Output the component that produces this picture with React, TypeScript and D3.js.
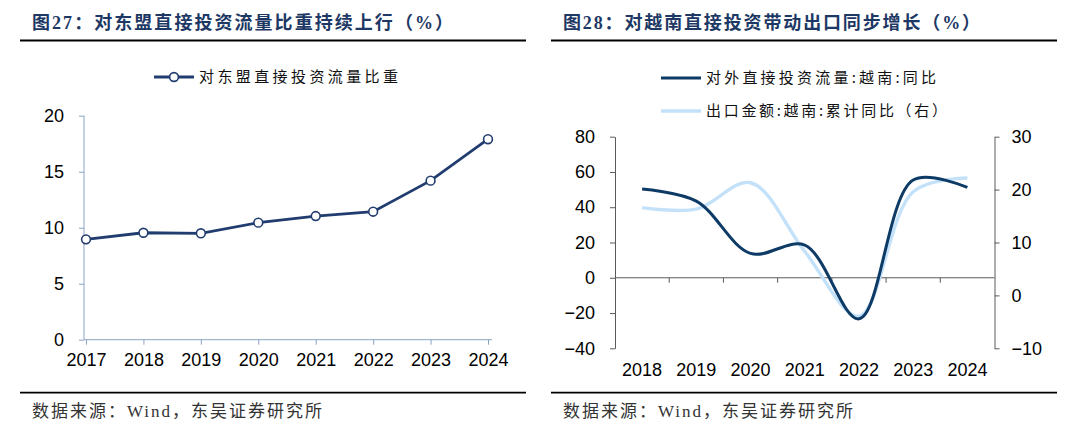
import * as d3 from 'd3';
import React, { useEffect, useRef } from 'react';

// 图27 数据
const aseanYears = ['2017', '2018', '2019', '2020', '2021', '2022', '2023', '2024'];
const aseanShare = [8.96, 9.55, 9.5, 10.45, 11.04, 11.43, 14.2, 17.9];

// 图28 数据
const vnYears = ['2018', '2019', '2020', '2021', '2022', '2023', '2024'];
const vnOdiYoy = [50.3, 43.5, 13.8, 18.5, -23.3, 55.4, 51.2];
const vnExportYoy = [16.6, 16.3, 21.3, 8.3, -3.9, 19.6, 22.2];

const leftTicks = [0, 5, 10, 15, 20];
const rightLeftTicks = [-40, -20, 0, 20, 40, 60, 80];
const rightRightTicks = [-10, 0, 10, 20, 30];

const NAVY = '#213c6f';
const DARK = '#0d3b66';
const LIGHT = '#c4e1fa';
const TITLE = '#1d3864';
const NUM_FONT = "'Liberation Sans', Arial, sans-serif";
const CJK_FONT = "'Noto Sans CJK SC', sans-serif";
const SERIF_FONT = "'Liberation Serif', 'Noto Sans CJK SC', serif";

const App: React.FC = () => {
  const ref = useRef<SVGSVGElement | null>(null);

  useEffect(() => {
    if (!ref.current) return;
    const svg = d3.select(ref.current);
    svg.selectAll('*').remove();

    // 标题、上下分隔线、来源
    const blocks = [
      { x0: 20, x1: 526, tx: 32, tw: 421, title: '图27：对东盟直接投资流量比重持续上行（%）' },
      { x0: 551, x1: 1057, tx: 563, tw: 417, title: '图28：对越南直接投资带动出口同步增长（%）' },
    ];
    blocks.forEach((b) => {
      svg
        .append('text')
        .attr('x', b.tx)
        .attr('y', 29)
        .attr('font-family', SERIF_FONT)
        .attr('font-weight', 'bold')
        .attr('font-size', 18)
        .attr('fill', TITLE)
        .attr('textLength', b.tw)
        .attr('lengthAdjust', 'spacing')
        .text(b.title);
      [40.5, 392.7].forEach((y) => {
        svg
          .append('line')
          .attr('x1', b.x0)
          .attr('x2', b.x1)
          .attr('y1', y)
          .attr('y2', y)
          .attr('stroke', '#000')
          .attr('stroke-width', 1.8);
      });
      svg
        .append('text')
        .attr('x', b.tx)
        .attr('y', 417)
        .attr('font-family', SERIF_FONT)
        .attr('font-size', 17)
        .attr('letter-spacing', 2)
        .attr('fill', '#333')
        .text('数据来源：Wind，东吴证券研究所');
    });

    // ---------- 左图 ----------
    const lx = d3.scalePoint<string>().domain(aseanYears).range([86, 488]);
    const ly = d3.scaleLinear().domain([0, 20]).range([339.7, 115.7]);
    const axisGrey = '#8ca4c2';

    const gl = svg.append('g');
    gl.append('g')
      .attr('transform', 'translate(84,0)')
      .call(d3.axisLeft(ly).tickValues(leftTicks).tickSize(5).tickSizeOuter(0).tickPadding(15))
      .call((g) => g.select('.domain').remove());
    gl.append('line')
      .attr('x1', 84)
      .attr('x2', 84)
      .attr('y1', ly(20))
      .attr('y2', ly(0))
      .attr('stroke', axisGrey);
    gl.append('g')
      .attr('transform', `translate(0,${ly(0)})`)
      .call(d3.axisBottom(lx).tickSize(5).tickPadding(9))
      .call((g) => g.select('.domain').remove());
    gl.append('line')
      .attr('x1', 84)
      .attr('x2', 492)
      .attr('y1', ly(0))
      .attr('y2', ly(0))
      .attr('stroke', axisGrey);
    gl.selectAll('.tick line').attr('stroke', axisGrey);
    gl.selectAll('.tick text')
      .attr('font-family', NUM_FONT)
      .attr('font-size', 18)
      .attr('fill', '#000');

    const leftLine = d3
      .line<number>()
      .x((_, i) => lx(aseanYears[i]) as number)
      .y((d) => ly(d));
    gl.append('path')
      .datum(aseanShare)
      .attr('fill', 'none')
      .attr('stroke', NAVY)
      .attr('stroke-width', 2.8)
      .attr('d', leftLine);
    gl.selectAll('circle.pt')
      .data(aseanShare)
      .enter()
      .append('circle')
      .attr('class', 'pt')
      .attr('cx', (_, i) => lx(aseanYears[i]) as number)
      .attr('cy', (d) => ly(d))
      .attr('r', 4.4)
      .attr('fill', '#fff')
      .attr('stroke', NAVY)
      .attr('stroke-width', 1.6);

    // 左图图例
    gl.append('line')
      .attr('x1', 154)
      .attr('x2', 194)
      .attr('y1', 77)
      .attr('y2', 77)
      .attr('stroke', NAVY)
      .attr('stroke-width', 2.8);
    gl.append('circle')
      .attr('cx', 174)
      .attr('cy', 77)
      .attr('r', 4.4)
      .attr('fill', '#fff')
      .attr('stroke', NAVY)
      .attr('stroke-width', 1.6);
    gl.append('text')
      .attr('x', 199)
      .attr('y', 77)
      .attr('dy', '0.36em')
      .attr('font-family', CJK_FONT)
      .attr('font-size', 15)
      .attr('fill', '#111')
      .attr('textLength', 199)
      .attr('lengthAdjust', 'spacing')
      .text('对东盟直接投资流量比重');

    // ---------- 右图 ----------
    const rx = d3.scaleBand<string>().domain(vnYears).range([615, 994.5]);
    const ryL = d3.scaleLinear().domain([-40, 80]).range([348.3, 136.7]);
    const ryR = d3.scaleLinear().domain([-10, 30]).range([348.3, 136.7]);
    const cx = (i: number) => (rx(vnYears[i]) as number) + rx.bandwidth() / 2;
    const axisDark = '#5a5a5a';

    const gr = svg.append('g');
    gr.append('g')
      .attr('transform', 'translate(615,0)')
      .call(d3.axisLeft(ryL).tickValues(rightLeftTicks).tickSize(5).tickSizeOuter(0).tickPadding(15));
    gr.append('g')
      .attr('transform', 'translate(994.5,0)')
      .call(d3.axisRight(ryR).tickValues(rightRightTicks).tickSize(5).tickSizeOuter(0).tickPadding(12));
    // 零轴与年份分隔刻度
    gr.append('line')
      .attr('x1', 615)
      .attr('x2', 994.5)
      .attr('y1', ryL(0))
      .attr('y2', ryL(0))
      .attr('stroke', axisDark);
    gr.selectAll('line.sep')
      .data(vnYears.slice(1))
      .enter()
      .append('line')
      .attr('class', 'sep')
      .attr('x1', (d) => rx(d) as number)
      .attr('x2', (d) => rx(d) as number)
      .attr('y1', ryL(0))
      .attr('y2', ryL(0) + 5)
      .attr('stroke', axisDark);
    gr.append('g')
      .attr('transform', `translate(0,${ryL(-40)})`)
      .call(d3.axisBottom(rx).tickSize(0).tickPadding(15))
      .call((g) => g.select('.domain').remove());
    gr.selectAll('.domain, .tick line').attr('stroke', axisDark);
    gr.selectAll('.tick text')
      .attr('font-family', NUM_FONT)
      .attr('font-size', 18)
      .attr('fill', '#000');

    const curve = d3.curveCatmullRom.alpha(0.5);
    const exportLine = d3
      .line<number>()
      .x((_, i) => cx(i))
      .y((d) => ryR(d))
      .curve(curve);
    const odiLine = d3
      .line<number>()
      .x((_, i) => cx(i))
      .y((d) => ryL(d))
      .curve(curve);
    gr.append('path')
      .datum(vnExportYoy)
      .attr('fill', 'none')
      .attr('stroke', LIGHT)
      .attr('stroke-width', 3.4)
      .attr('d', exportLine);
    gr.append('path')
      .datum(vnOdiYoy)
      .attr('fill', 'none')
      .attr('stroke', DARK)
      .attr('stroke-width', 3)
      .attr('d', odiLine);

    // 右图图例
    const legend = [
      { y: 78, color: DARK, w: 3, len: 230, label: '对外直接投资流量:越南:同比' },
      { y: 111, color: LIGHT, w: 3.4, len: 241, label: '出口金额:越南:累计同比（右）' },
    ];
    legend.forEach((l) => {
      gr.append('line')
        .attr('x1', 661)
        .attr('x2', 701)
        .attr('y1', l.y)
        .attr('y2', l.y)
        .attr('stroke', l.color)
        .attr('stroke-width', l.w);
      gr.append('text')
        .attr('x', 706)
        .attr('y', l.y)
        .attr('dy', '0.36em')
        .attr('font-family', CJK_FONT)
        .attr('font-size', 15)
        .attr('fill', '#111')
        .attr('textLength', l.len)
        .attr('lengthAdjust', 'spacing')
        .text(l.label);
    });
  }, []);

  return (
    <svg
      ref={ref}
      width={1080}
      height={438}
      style={{ position: 'absolute', left: 0, top: 0, background: '#fff' }}
    />
  );
};

export default App;
